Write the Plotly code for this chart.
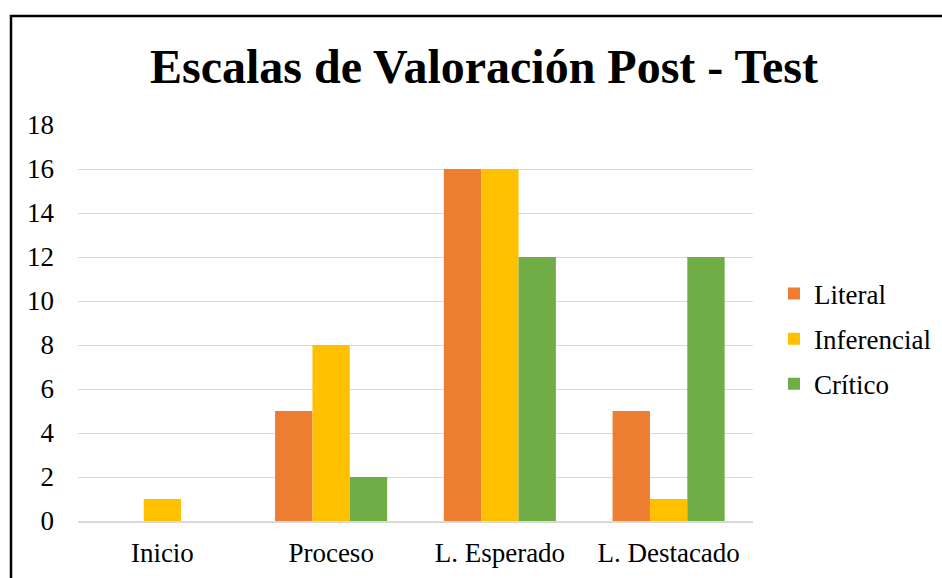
import plotly.graph_objects as go

categories = ["Inicio", "Proceso", "L. Esperado", "L. Destacado"]
literal = [0, 5, 16, 5]
inferencial = [1, 8, 16, 1]
critico = [0, 2, 12, 12]
series_names = ["Literal", "Inferencial", "Crítico"]
colors = ["#ED7D31", "#FFC000", "#70AD47"]
y_ticks = [0, 2, 4, 6, 8, 10, 12, 14, 16, 18]

W, H = 942, 578
ml, mr, mt, mb = 78, 189, 125, 57
pw, ph = W - ml - mr, H - mt - mb

def px_to_paper_x(px):
    return (px - ml) / pw

def px_to_paper_y(py):
    return (H - mb - py) / ph

FONT = "Liberation Serif, Times New Roman, serif"
FS = 27

fig = go.Figure()
for name, vals, col in zip(series_names, [literal, inferencial, critico], colors):
    fig.add_trace(go.Bar(
        x=categories, y=vals, name=name, marker=dict(color=col, line=dict(width=0)),
        legendgroup=name,
    ))

fig.update_layout(
    width=W, height=H,
    margin=dict(l=ml, r=mr, t=mt, b=mb, autoexpand=False),
    paper_bgcolor="white", plot_bgcolor="white",
    font=dict(family=FONT, size=FS, color="black"),
    title=dict(text="<b>Escalas de Valoración Post - Test</b>",
               font=dict(size=48, color="black", family=FONT),
               x=px_to_paper_x(484), xref="paper", xanchor="center",
               y=1 - 66 / H, yanchor="middle"),
    barmode="group", bargap=0.336, bargroupgap=0,
    showlegend=True,
    legend=dict(x=px_to_paper_x(774), xanchor="left", y=px_to_paper_y(339), yanchor="middle",
                font=dict(size=FS, family=FONT), tracegroupgap=7, bgcolor="rgba(0,0,0,0)"),
    xaxis=dict(showgrid=False, showline=True, linecolor="#D9D9D9", linewidth=2, automargin=False,
               ticks="", tickfont=dict(size=FS, family=FONT), ticklabelstandoff=7),
    yaxis=dict(range=[0, 18], tickvals=y_ticks, showgrid=True, gridcolor="#D9D9D9", gridwidth=1,
               zeroline=False, showline=False, ticks="", automargin=False,
               tickfont=dict(size=FS, family=FONT), ticklabelstandoff=23),
)

fig.add_shape(type="rect", xref="paper", yref="paper",
              x0=px_to_paper_x(11), x1=px_to_paper_x(960),
              y0=px_to_paper_y(600), y1=px_to_paper_y(16),
              line=dict(color="black", width=2.5), fillcolor="rgba(0,0,0,0)", layer="above")

fig.write_html("out.html", config={"displayModeBar": False},
               post_script="document.body.style.margin='0';document.body.style.padding='0';")
